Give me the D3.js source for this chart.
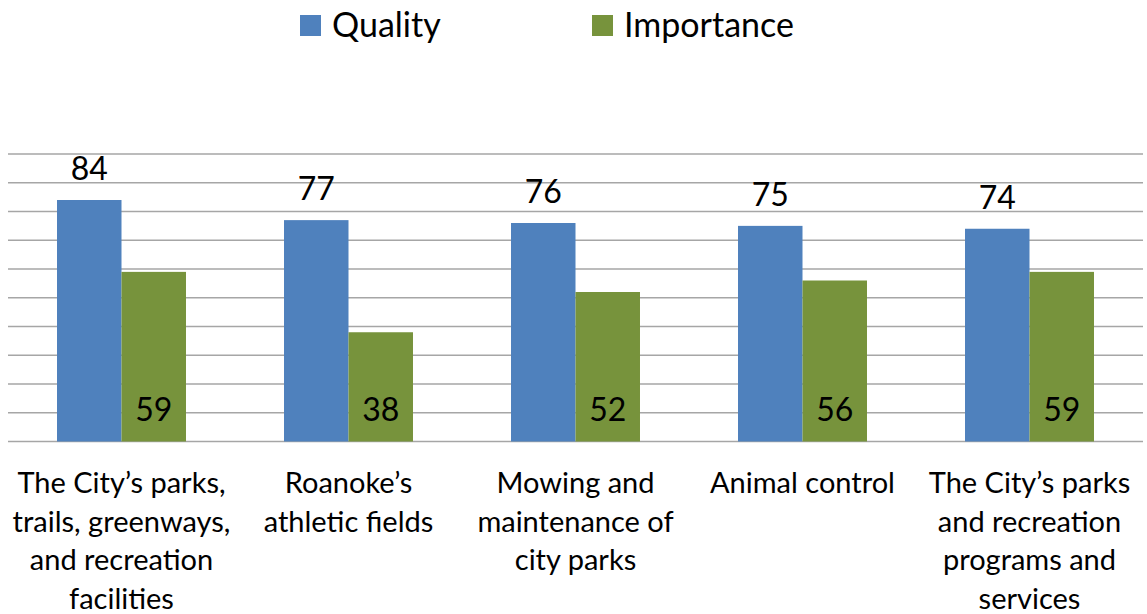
<!DOCTYPE html>
<html lang="en">
<head>
<meta charset="UTF-8">
<script src="https://d3js.org/d3.v7.min.js"></script>
<style>
  body { margin: 0; background: #fff; }
  svg text { font-family: Lato, "Open Sans", sans-serif; fill: #000; }
</style>
</head>
<body>
<svg id="chart" width="1147" height="614"></svg>
<script>
// data
var categories = [
  "The City’s parks, trails, greenways, and recreation facilities",
  "Roanoke’s athletic fields",
  "Mowing and maintenance of city parks",
  "Animal control",
  "The City’s parks and recreation programs and services"
];
var categoryLines = [
  ["The City’s parks,", "trails, greenways,", "and recreation", "facilities"],
  ["Roanoke’s", "athletic fields"],
  ["Mowing and", "maintenance of", "city parks"],
  ["Animal control"],
  ["The City’s parks", "and recreation", "programs and", "services"]
];
var seriesNames = ["Quality", "Importance"];
var quality = [84, 77, 76, 75, 74];
var importance = [59, 38, 52, 56, 59];
var yTicks = [0, 10, 20, 30, 40, 50, 60, 70, 80, 90, 100];

var colors = { Quality: "#4F81BD", Importance: "#77933C" };

var svg = d3.select("#chart");
var margin = { left: 8, right: 4 };
var W = +svg.attr("width");

var x = d3.scaleBand()
  .domain(categories)
  .range([margin.left, W - margin.right])
  .padding(0);

// two bars per group, gap between groups 1.5x a bar width
var inner = d3.scaleBand()
  .domain(seriesNames)
  .range([0, x.bandwidth()])
  .paddingInner(0)
  .paddingOuter(0.76);

var y = d3.scaleLinear().domain([0, 100]).range([441.5, 154]);

// gridlines
svg.append("g")
  .selectAll("line")
  .data(yTicks)
  .join("line")
  .attr("x1", margin.left)
  .attr("x2", W - margin.right)
  .attr("y1", d => y(d))
  .attr("y2", d => y(d))
  .attr("stroke", "#a6a6a6")
  .attr("stroke-width", 1.5);

var rows = categories.map((c, i) => ({ cat: c, i: i, Quality: quality[i], Importance: importance[i] }));

var groups = svg.append("g")
  .selectAll("g")
  .data(rows)
  .join("g")
  .attr("transform", d => `translate(${x(d.cat)},0)`);

groups.selectAll("rect")
  .data(d => seriesNames.map(s => ({ s: s, v: d[s] })))
  .join("rect")
  .attr("x", d => inner(d.s))
  .attr("width", inner.bandwidth())
  .attr("y", d => y(d.v))
  .attr("height", d => y(0) - y(d.v))
  .attr("fill", d => colors[d.s]);

// value labels: quality above bar, importance inside base
groups.append("text")
  .attr("x", inner("Quality") + inner.bandwidth() / 2)
  .attr("y", d => y(d.Quality) - 20)
  .attr("text-anchor", "middle")
  .attr("font-size", 32)
  .text(d => d.Quality);

groups.append("text")
  .attr("x", inner("Importance") + inner.bandwidth() / 2)
  .attr("y", y(0) - 21)
  .attr("text-anchor", "middle")
  .attr("font-size", 32)
  .text(d => d.Importance);

// category labels
groups.append("text")
  .attr("text-anchor", "middle")
  .attr("font-size", 29)
  .attr("transform", `translate(${x.bandwidth() / 2},0)`)
  .selectAll("tspan")
  .data(d => categoryLines[d.i])
  .join("tspan")
  .attr("x", 0)
  .attr("y", (d, j) => 493 + j * 38.7)
  .text(d => d);

// legend
var legendX = [300, 592];
var legend = svg.append("g")
  .selectAll("g")
  .data(seriesNames)
  .join("g")
  .attr("transform", (d, i) => `translate(${legendX[i]},15)`);
legend.append("rect")
  .attr("width", 21).attr("height", 21)
  .attr("fill", d => colors[d]);
legend.append("text")
  .attr("x", 32).attr("y", 22)
  .attr("font-size", 34)
  .text(d => d);
</script>
</body>
</html>
